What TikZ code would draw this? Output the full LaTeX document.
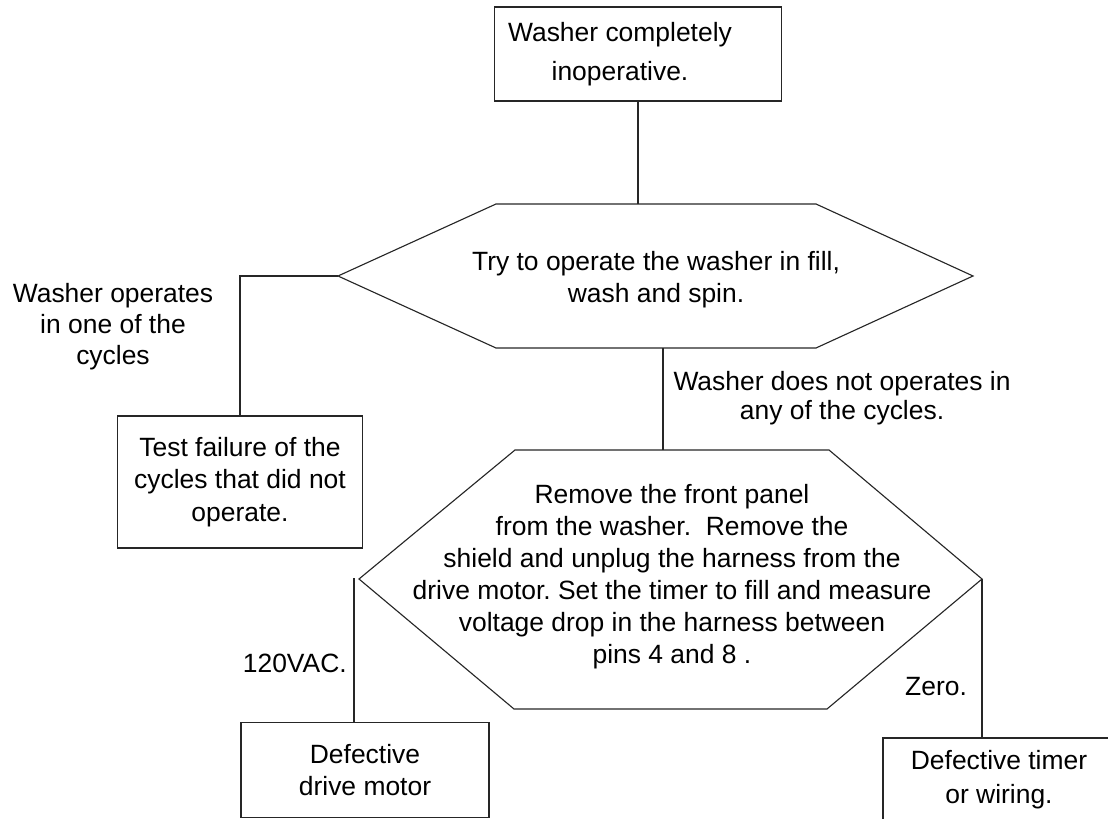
\documentclass[tikz,border=0pt]{standalone}
\usepackage{fontspec}
\setmainfont{Liberation Sans}
\frenchspacing

\tikzset{
  box/.style={rectangle, draw=black!85, line width=0.8pt, align=center, inner sep=0pt},
  txt/.style={align=center, inner sep=0pt},
  hexline/.style={draw=black!85, line width=0.8pt},
  wire/.style={black!85, line width=0.8pt},
}

\begin{document}
\begin{tikzpicture}[
  x=0.025cm, y=-0.025cm,
  font=\fontsize{18.8}{23}\selectfont,
  vac/.style={black!85, line width=1.5pt}
]
  \useasboundingbox (0,0) rectangle (1108,819);
  \clip (0,0) rectangle (1108,819);

  \node[box, minimum width=7.175cm, minimum height=2.35cm,
        font=\fontsize{18.8}{27.5}\selectfont] (start) at (638,54)
        {Washer completely\hspace*{0.9cm}\\inoperative.\hspace*{0.9cm}};

  % first test
  \coordinate (try-w) at (338,276);
  \coordinate (try-e) at (973,276);
  \coordinate (try-s) at (663,348);
  \draw[hexline] (try-w) -- (496,204) -- (816,204) -- (try-e)
        -- (816,348) -- (496,348) -- cycle;
  \node[txt, font=\fontsize{18.8}{22.8}\selectfont] (try) at (656,280)
        {Try to operate the washer in fill,\\wash and spin.};

  \node[box, minimum width=6.125cm, minimum height=3.3cm] (test) at (240,482)
        {Test failure of the\\cycles that did not\\operate.};

  % second test
  \coordinate (panel-w) at (359,579);
  \coordinate (panel-e) at (982,579);
  \draw[hexline] (panel-w) -- (515,450) -- (829,450) -- (panel-e)
        -- (827,709) -- (514,709) -- cycle;
  \node[txt, font=\fontsize{18.8}{22.8}\selectfont] (panel) at (672,577)
        {Remove the front panel\\from the washer.~ Remove the\\shield and unplug the harness from the\\drive motor. Set the timer to fill and measure\\voltage drop in the harness between\\pins 4 and 8 .};

  \node[box, minimum width=6.2cm, minimum height=2.375cm] (motor) at (365,770)
        {Defective\\drive motor};
  \node[box, minimum width=5.8cm, minimum height=2.1cm,
        font=\fontsize{18.8}{24}\selectfont] (timer) at (999,780)
        {Defective timer\\or wiring.};

  % labels
  \node[txt, font=\fontsize{18.8}{22}\selectfont] (yes) at (113,327)
        {Washer operates\\in one of the\\cycles};
  \node[txt, font=\fontsize{18.8}{20.6}\selectfont] (no) at (842,398)
        {Washer does not operates in\\any of the cycles.};
  \node[txt, anchor=east] (vac-lbl) at (347,663) {120VAC.};
  \node[txt] (zero) at (936,687) {Zero.};

  % connectors
  \draw[wire] (start.south) -- (start.south |- 0,204);
  \draw[wire] (try-w) -| (test.north);
  \draw[wire] (try-s) -- (try-s |- 0,450);
  \draw[vac] (panel-w) ++(-5,-1) coordinate (vac-top) -- (vac-top |- motor.north);
  \draw[wire] (panel-e) -- (panel-e |- timer.north);
\end{tikzpicture}
\end{document}
